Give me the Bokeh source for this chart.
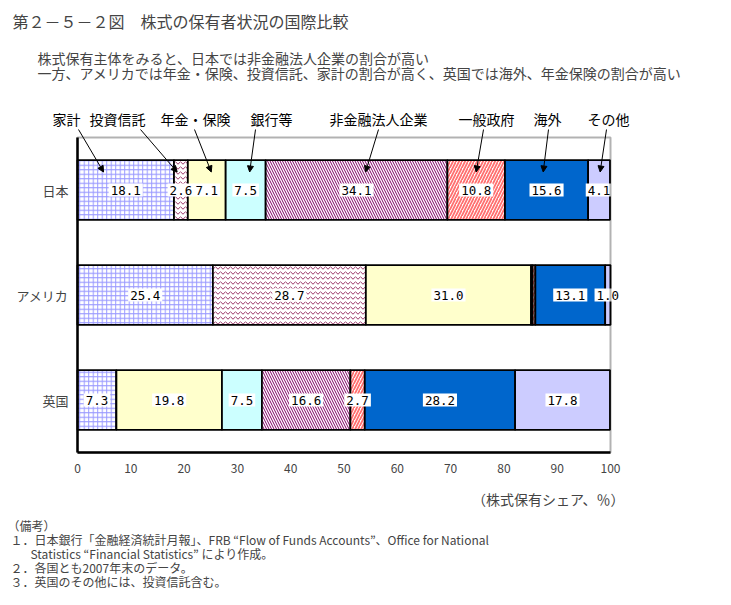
from bokeh.plotting import figure
from bokeh.models import (ColumnDataSource, Label, Arrow, NormalHead, FixedTicker,
                          BoxAnnotation)
from bokeh.embed import file_html
from bokeh.resources import INLINE

# ---------------- data ----------------
countries = ["英国", "アメリカ", "日本"]          # bottom -> top
series = ["家計", "投資信託", "年金・保険", "銀行等", "非金融法人企業", "一般政府", "海外", "その他"]
japan = [18.1, 2.6, 7.1, 7.5, 34.1, 10.8, 15.6, 4.1]
usa = [25.4, 28.7, 31.0, 0.3, 0.0, 0.5, 13.1, 1.0]
uk = [7.3, 0.0, 19.8, 7.5, 16.6, 2.7, 28.2, 17.8]
x_ticks = [0, 10, 20, 30, 40, 50, 60, 70, 80, 90, 100]

title_text = "第２－５－２図　株式の保有者状況の国際比較"
sub_lines = ["株式保有主体をみると、日本では非金融法人企業の割合が高い",
             "一方、アメリカでは年金・保険、投資信託、家計の割合が高く、英国では海外、年金保険の割合が高い"]
note_lines = ["（備考）",
              "１．日本銀行「金融経済統計月報」、FRB “Flow of Funds Accounts”、Office for National",
              "Statistics “Financial Statistics” により作成。",
              "２．各国とも2007年末のデータ。",
              "３．英国のその他には、投資信託含む。"]
x_axis_label = "（株式保有シェア、％）"

# ---------------- styles ----------------
fills = ["white", "white", "#FFFFCC", "#CCFFFF", "white", "white", "#0066CC", "#CCCCFF"]
hatches = ["+", "v", " ", " ", "\\", "/", " ", " "]
hatch_colors = ["#9999FF", "#993366", "black", "black", "#800066", "#FF7070", "black", "black"]
hatch_scales = [4.5, 5.0, 12.0, 12.0, 5.0, 6.0, 12.0, 12.0]
hatch_weights = [1.0, 1.0, 1.0, 1.0, 1.0, 1.8, 1.0, 1.0]

JP = "Noto Sans CJK JP"
NUM = "DejaVu Sans Mono"

W, H = 730, 604
FRAME_L, FRAME_R, FRAME_T, FRAME_B = 77, 610, 137, 452   # page px of the data box


def dx(X):
    return (X - FRAME_L) / (FRAME_R - FRAME_L) * 100.0


def dy(Y):
    return 2.5 - (Y - FRAME_T) / (FRAME_B - FRAME_T) * 3.0


rows = [uk, usa, japan]
keys = [f"s{i}" for i in range(len(series))]
data = {"y": [0, 1, 2]}
for i, k in enumerate(keys):
    data[k] = [r[i] for r in rows]
source = ColumnDataSource(data)

p = figure(width=W, height=H, x_range=(dx(0), dx(W)), y_range=(dy(H), dy(0)),
           output_backend="svg", toolbar_location=None, title=None,
           min_border=0, min_border_left=0, min_border_right=0,
           min_border_top=0, min_border_bottom=0)
p.outline_line_color = None

p.hbar_stack(keys, y="y", height=0.57, source=source,
             fill_color=fills, hatch_pattern=hatches, hatch_color=hatch_colors,
             hatch_scale=hatch_scales, hatch_weight=hatch_weights,
             line_color="black", line_width=1.8)

# data box border
p.add_layout(BoxAnnotation(left=0, right=100, bottom=-0.5, top=2.5,
                           fill_alpha=0, line_color="black", line_width=2))

# value labels
lx, ly, lt = [], [], []
for yi, r in enumerate(rows):
    left = 0.0
    for v in r:
        if v >= 1.0:
            lx.append(left + v / 2)
            ly.append(yi)
            lt.append(f"{v:.1f}")
        left += v
lab_src = ColumnDataSource(dict(x=lx, y=ly, t=lt))
p.text(x="x", y="y", text="t", source=lab_src,
       text_align="center", text_baseline="middle",
       text_font={"value": NUM}, text_font_size="12.5px", text_color="black",
       background_fill_color="white", padding=2)

# callouts for Japan
call_x_px = [66, 117, 195, 271, 378, 486, 547, 608]
arrow_start_px = [78, 140, 194, 255, 378, 483, 548, 606]
tip_frac = [0.27, 0.23, 0.62, 0.60, 0.55, 0.50, 0.46, 0.55]
left = 0.0
for i, name in enumerate(series):
    v = japan[i]
    p.add_layout(Label(x=dx(call_x_px[i]), y=dy(118), text=name,
                       text_align="center", text_baseline="middle",
                       text_font=JP, text_font_size="14px", text_color="black"))
    p.add_layout(Arrow(x_start=dx(arrow_start_px[i]), y_start=dy(129),
                       x_end=left + tip_frac[i] * v, y_end=dy(171.5),
                       line_color="black", line_width=1,
                       end=NormalHead(size=6, fill_color="black", line_color="black", line_width=1)))
    left += v

# titles
p.add_layout(Label(x=dx(12), y=dy(20), text=title_text, text_align="left",
                   text_baseline="middle", text_font=JP, text_font_size="16px"))
for t, Y in zip(sub_lines, [57, 72]):
    p.add_layout(Label(x=dx(37), y=dy(Y), text=t, text_align="left",
                       text_baseline="middle", text_font=JP, text_font_size="14px"))
for t, X, Y in zip(note_lines, [7, 10, 30, 10, 10], [525, 539, 553, 567, 581]):
    p.add_layout(Label(x=dx(X), y=dy(Y), text=t, text_align="left",
                       text_baseline="middle", text_font=JP, text_font_size="12px"))
p.add_layout(Label(x=dx(624), y=dy(498), text=x_axis_label, text_align="right",
                   text_baseline="middle", text_font=JP, text_font_size="14px"))

# axes (placed at the data box edges)
p.xgrid.visible = False
p.ygrid.visible = False
p.xaxis.fixed_location = -0.5
p.xaxis.bounds = (0, 100)
p.xaxis.ticker = FixedTicker(ticks=x_ticks)
p.xaxis.major_tick_out = 0
p.xaxis.major_tick_in = 0
p.xaxis.minor_tick_out = 0
p.xaxis.minor_tick_in = 0
p.xaxis.axis_line_width = 2.5
p.xaxis.major_label_standoff = 11
p.xaxis.major_label_text_font = JP
p.xaxis.major_label_text_font_size = "12px"
p.yaxis.fixed_location = 0
p.yaxis.bounds = (-0.5, 2.5)
p.yaxis.ticker = FixedTicker(ticks=[0, 1, 2])
p.yaxis.major_label_overrides = {0: countries[0], 1: countries[1], 2: countries[2]}
p.yaxis.major_tick_out = 0
p.yaxis.major_tick_in = 0
p.yaxis.minor_tick_out = 0
p.yaxis.minor_tick_in = 0
p.yaxis.axis_line_width = 2.5
p.yaxis.major_label_standoff = 9
p.yaxis.major_label_text_font = JP
p.yaxis.major_label_text_font_size = "13px"

open("out.html", "w").write(file_html(p, INLINE))
